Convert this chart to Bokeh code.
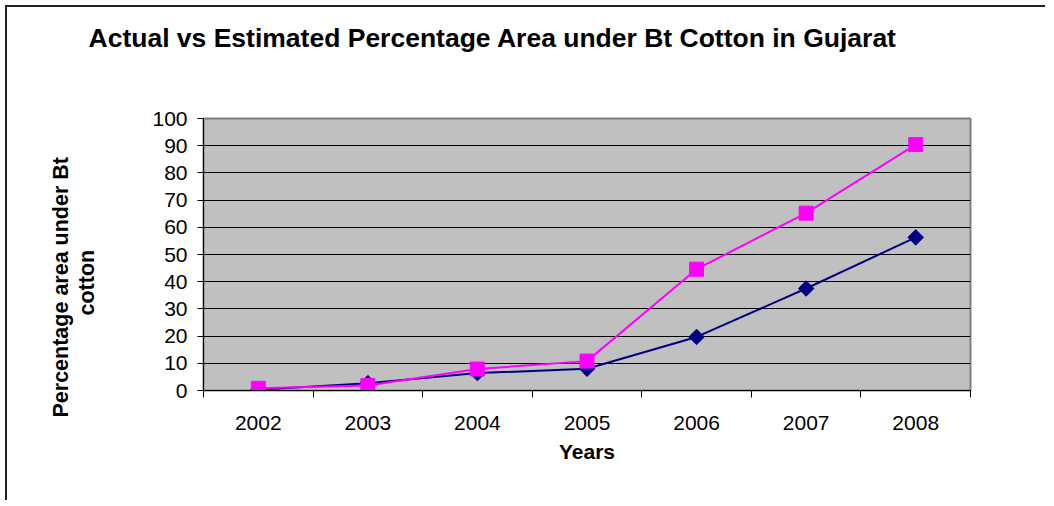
import numpy as np
from bokeh.plotting import figure
from bokeh.models import Range1d, FixedTicker, Title
from bokeh.embed import file_html
from bokeh.resources import INLINE

# ---- data ----
years = [2002, 2003, 2004, 2005, 2006, 2007, 2008]
actual = [0.3, 2.7, 6.4, 8.0, 19.7, 37.5, 56.3]
estimated = [0.8, 1.8, 7.9, 10.8, 44.6, 65.2, 90.4]
y_ticks = [0, 10, 20, 30, 40, 50, 60, 70, 80, 90, 100]
title_text = "Actual vs Estimated Percentage Area under Bt Cotton in  Gujarat"
x_title = "Years"
y_title_lines = ["Percentage area under Bt", "cotton"]

FONT = "Liberation Sans"

p = figure(width=1040, height=495, output_backend="svg", toolbar_location=None,
           x_range=Range1d(years[0] - 0.5, years[-1] + 0.5),
           y_range=Range1d(y_ticks[0], y_ticks[-1]),
           min_border_left=196, min_border_right=77,
           min_border_top=111, min_border_bottom=112)
p.styles = {"border-top": "2px solid #222222", "border-left": "2px solid #222222",
            "margin-left": "5px", "margin-top": "5px"}

p.background_fill_color = "#C0C0C0"
p.border_fill_color = "white"
p.outline_line_color = "#808080"
p.outline_line_width = 2

p.xgrid.visible = False
p.ygrid.ticker = FixedTicker(ticks=y_ticks)
p.ygrid.grid_line_color = "black"
p.ygrid.grid_line_width = 1

yax = p.yaxis[0]
yax.ticker = FixedTicker(ticks=y_ticks)
yax.axis_line_color = "black"
yax.major_tick_out = 6
yax.major_tick_in = 0
yax.minor_tick_out = 0
yax.minor_tick_in = 0
yax.major_tick_line_color = "black"
yax.major_label_text_font = FONT
yax.major_label_text_font_size = "21px"
yax.major_label_text_color = "black"
yax.major_label_standoff = 10

xax = p.xaxis[0]
xax.ticker = FixedTicker(ticks=years,
                         minor_ticks=[y - 0.5 for y in years] + [years[-1] + 0.5])
xax.axis_line_color = "black"
xax.major_tick_out = 0
xax.major_tick_in = 0
xax.minor_tick_out = 7
xax.minor_tick_in = 0
xax.minor_tick_line_color = "black"
xax.major_label_text_font = FONT
xax.major_label_text_font_size = "21px"
xax.major_label_text_color = "black"
xax.major_label_standoff = 18
xax.axis_label = x_title
xax.axis_label_text_font = FONT
xax.axis_label_text_font_size = "21px"
xax.axis_label_text_font_style = "bold"
xax.axis_label_text_color = "black"
xax.axis_label_standoff = 7

p.line(years, actual, line_color="#000080", line_width=2)
p.scatter(years, actual, marker="square", angle=np.pi / 4, size=11,
          fill_color="#000080", line_color="#000080")
p.line(years, estimated, line_color="#FF00FF", line_width=2)
p.scatter(years, estimated, marker="square", size=14,
          fill_color="#FF00FF", line_color="#FF00FF")

# spacer in the top panel, between the frame and the title
p.add_layout(Title(text=" ", text_font_size="1px", standoff=63), "above")

# main title (outermost in the top panel)
p.title.text = title_text
p.title.text_font = FONT
p.title.text_font_size = "26.5px"
p.title.text_font_style = "bold"
p.title.text_color = "black"
p.title.align = "left"
p.title.offset = -115
p.title.standoff = 0

# spacer in the left panel, then the two centred lines of the y title
p.add_layout(Title(text=" ", text_font_size="1px", standoff=48), "left")
p.add_layout(Title(text=y_title_lines[1], text_font=FONT, text_font_size="21.5px",
                   text_font_style="bold", text_color="black",
                   align="left", offset=75, standoff=0), "left")
p.add_layout(Title(text=y_title_lines[0], text_font=FONT, text_font_size="21.5px",
                   text_font_style="bold", text_color="black",
                   align="left", offset=-27, standoff=0), "left")

open("out.html", "w").write(file_html(p, INLINE))
